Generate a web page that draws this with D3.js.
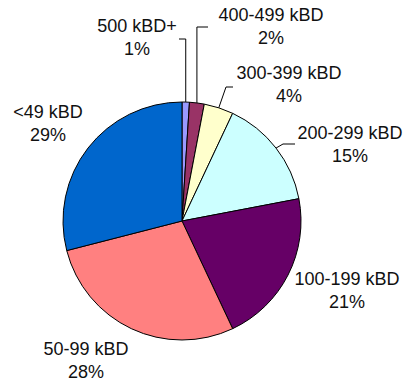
<!DOCTYPE html>
<html>
<head>
<meta charset="utf-8">
<script src="https://cdn.jsdelivr.net/npm/d3@7"></script>
<style>
  html, body { margin: 0; padding: 0; background: #fff; }
  svg { display: block; }
  text { font-family: "Liberation Sans", Arial, sans-serif; font-size: 18px; fill: #111; }
</style>
</head>
<body>
<svg id="chart" width="405" height="383"></svg>
<script>
// Refinery capacity classes and their share of the total (%)
const categories = ["500 kBD+", "400-499 kBD", "300-399 kBD", "200-299 kBD", "100-199 kBD", "50-99 kBD", "<49 kBD"];
const shares = [1, 2, 4, 15, 21, 28, 29];
const colors = ["#9999FF", "#993366", "#FFFFCC", "#CCFFFF", "#660066", "#FF8080", "#0066CC"];

// Label placement: text centre x, first baseline y; optional leader elbow/end
const labelLayout = [
  { x: 137, y: 32, leader: { elbow: null, endX: 179, endY: 39 } },
  { x: 271, y: 21, leader: { elbow: null, endX: 208, endY: 27 } },
  { x: 289, y: 79, leader: { elbow: [226, 87], endX: 233, endY: 87 } },
  { x: 350, y: 139, leader: { elbow: [283, 144], endX: 295, endY: 144 } },
  { x: 347, y: 285, leader: null },
  { x: 86, y: 355, leader: null },
  { x: 48, y: 118, leader: null }
];

const data = categories.map((c, i) => ({ name: c, value: shares[i], color: colors[i], layout: labelLayout[i] }));

const cx = 182, cy = 221, radius = 119;
const svg = d3.select("#chart");
const g = svg.append("g").attr("transform", `translate(${cx},${cy})`);

const pie = d3.pie().value(d => d.value).sort(null);
const arc = d3.arc().innerRadius(0).outerRadius(radius);
const arcs = pie(data);

g.selectAll("path.slice")
  .data(arcs)
  .join("path")
  .attr("class", "slice")
  .attr("d", arc)
  .attr("fill", d => d.data.color)
  .attr("stroke", "#000")
  .attr("stroke-width", 1)
  .attr("stroke-linejoin", "round");

// Leader lines from the slice edge to the label
const leaders = arcs.filter(d => d.data.layout.leader);
svg.selectAll("path.leader")
  .data(leaders)
  .join("path")
  .attr("class", "leader")
  .attr("fill", "none")
  .attr("stroke", "#000")
  .attr("stroke-width", 1)
  .attr("d", d => {
    const mid = (d.startAngle + d.endAngle) / 2;
    const sx = cx + radius * Math.sin(mid);
    const sy = cy - radius * Math.cos(mid);
    const L = d.data.layout.leader;
    const p = d3.path();
    p.moveTo(sx, sy);
    if (L.elbow) {
      p.lineTo(L.elbow[0], L.elbow[1]);
    } else {
      p.lineTo(sx, L.endY);
    }
    p.lineTo(L.endX, L.endY);
    return p.toString();
  });

// Category and percentage labels
const labels = svg.selectAll("text.label")
  .data(arcs)
  .join("text")
  .attr("class", "label")
  .attr("text-anchor", "middle")
  .attr("x", d => d.data.layout.x)
  .attr("y", d => d.data.layout.y);

labels.append("tspan")
  .attr("x", d => d.data.layout.x)
  .text(d => d.data.name);
labels.append("tspan")
  .attr("x", d => d.data.layout.x)
  .attr("dy", 23)
  .text(d => d.data.value + "%");
</script>
</body>
</html>
